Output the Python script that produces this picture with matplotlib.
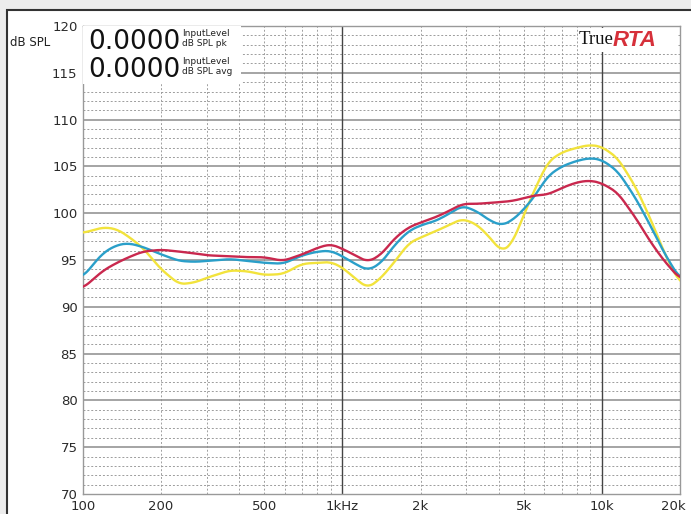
import matplotlib.pyplot as plt
import matplotlib.patches as patches
import matplotlib.transforms as mtransforms
import numpy as np

# frequency grid (Hz) and measured levels (dB SPL) for the three traces
freq = [100, 110, 120, 135, 150, 170, 200, 235, 270, 300, 370, 430, 500, 590,
        700, 800, 900, 1000, 1100, 1250, 1400, 1600, 1800, 2000, 2300, 2600,
        2900, 3300, 3700, 4100, 4500, 5000, 5500, 6200, 7000, 8000, 9000,
        10000, 11500, 13500, 15500, 17500, 20000]

red = [92.0, 93.0, 93.9, 94.7, 95.3, 95.9, 96.1, 95.9, 95.7, 95.5, 95.4, 95.3,
       95.3, 94.9, 95.6, 96.3, 96.7, 96.2, 95.6, 94.8, 95.5, 97.4, 98.5, 99.0,
       99.6, 100.3, 101.0, 101.0, 101.1, 101.2, 101.3, 101.6, 101.9, 102.0,
       102.7, 103.3, 103.5, 103.2, 102.2, 99.5, 96.8, 94.8, 93.0]

blue = [93.2, 94.6, 95.8, 96.6, 96.8, 96.4, 95.6, 94.9, 94.8, 94.9, 95.1, 94.9,
        94.7, 94.6, 95.5, 95.9, 96.0, 95.4, 94.7, 93.9, 94.6, 96.7, 98.1, 98.7,
        99.2, 100.0, 100.8, 100.2, 99.2, 98.7, 99.2, 100.4, 101.8, 104.0,
        105.0, 105.6, 105.9, 105.7, 104.5, 101.6, 98.5, 95.6, 93.0]

yellow = [97.9, 98.2, 98.5, 98.3, 97.5, 96.3, 94.0, 92.4, 92.6, 93.1, 93.9,
          93.8, 93.4, 93.5, 94.6, 94.7, 94.8, 94.2, 93.2, 92.0, 93.0, 94.9,
          96.8, 97.4, 98.1, 98.8, 99.4, 98.8, 97.4, 95.9, 96.7, 99.8, 102.5,
          105.5, 106.5, 107.0, 107.3, 107.1, 105.9, 102.8, 99.2, 95.6, 92.5]

xticks = [100, 200, 500, 1000, 2000, 5000, 10000, 20000]
xticklabels = ["100", "200", "500", "1kHz", "2k", "5k", "10k", "20k"]
yticks = list(range(70, 121, 5))


def smooth(x, y, n=400):
    """Interpolate on log-frequency and run a short moving average."""
    lx = np.log10(x)
    xs = np.linspace(lx[0], lx[-1], n)
    ys = np.interp(xs, lx, y)
    k = np.ones(9) / 9
    pad = np.pad(ys, 4, mode="edge")
    ys = np.convolve(pad, k, mode="valid")
    return 10 ** xs, ys


fig = plt.figure(figsize=(6.91, 5.14), dpi=100)
fig.patch.set_facecolor("#ededed")
frame = patches.Rectangle((7 / 691, -0.02), 1.0, 1 - 10 / 514 + 0.02,
                          transform=fig.transFigure, facecolor="white",
                          edgecolor="#333333", lw=1.5, zorder=-10)
fig.patches.append(frame)

ax = fig.add_axes([83 / 691, 1 - 494 / 514, 597 / 691, 468 / 514])
ax.set_facecolor("white")
ax.set_xscale("log")
ax.set_xlim(100, 20000)
ax.set_ylim(70, 120)

# grid
minor_f = [m * d for d in (100, 1000, 10000) for m in range(2, 10) if m * d < 20000]
for f in minor_f:
    ax.axvline(f, color="#a0a0a0", lw=0.7, ls=(0, (2, 2)), zorder=1)
for v in range(71, 120):
    if v % 5:
        ax.axhline(v, color="#9c9c9c", lw=0.7, ls=(0, (2, 2)), zorder=1)
for v in range(75, 120, 5):
    ax.axhline(v, color="#8c8c8c", lw=1.1, zorder=1)
for f in (1000, 10000):
    ax.axvline(f, color="#444444", lw=1.0, zorder=1)

for data, col in ((yellow, "#f2e33c"), (blue, "#2a9fc9"), (red, "#c9284e")):
    xs, ys = smooth(freq, data)
    ax.plot(xs, ys, color=col, lw=1.7, zorder=3)

ax.set_xticks(xticks)
ax.set_xticklabels(xticklabels)
ax.xaxis.set_minor_locator(plt.NullLocator())
ax.set_yticks(yticks)
ax.tick_params(length=0, labelsize=9.5, colors="#2a2a2a", pad=4)
last = ax.get_xticklabels()[-1]
last.set_transform(last.get_transform() +
                   mtransforms.ScaledTranslation(-6.5 / 100, 0, fig.dpi_scale_trans))
for s in ax.spines.values():
    s.set_color("#999999")
    s.set_linewidth(1.0)

fig.text(10 / 691, 1 - 42 / 514, "dB SPL", fontsize=8.5, color="#222222",
         va="center", ha="left")

# readout box covering the grid in the top-left corner
box = patches.Rectangle((0, 1 - 58 / 468), 158 / 597, 58 / 468,
                        transform=ax.transAxes, facecolor="white",
                        edgecolor="none", zorder=4)
ax.add_patch(box)
for yy, sub in ((42, "dB SPL pk"), (70, "dB SPL avg")):
    fig.text(88 / 691, 1 - yy / 514, "0.0000", fontsize=19, va="center",
             ha="left", color="#111111", zorder=5)
    fig.text(182 / 691, 1 - (yy - 8) / 514, "InputLevel", fontsize=6.5,
             va="center", ha="left", color="#222222", zorder=5)
    fig.text(182 / 691, 1 - (yy + 2) / 514, sub, fontsize=6.5,
             va="center", ha="left", color="#222222", zorder=5)

# logo
logo = patches.Rectangle((495 / 597, 1 - 26 / 468), 100 / 597, 24 / 468,
                         transform=ax.transAxes, facecolor="white",
                         edgecolor="none", zorder=4)
ax.add_patch(logo)
fig.text(579 / 691, 1 - 40 / 514, "True", fontsize=13.5, family="Liberation Serif",
         va="center", ha="left", color="#111111", zorder=5)
fig.text(613 / 691, 1 - 40 / 514, "RTA", fontsize=16, fontweight="bold",
         style="italic", family="Liberation Sans", va="center", ha="left",
         color="#d6303a", zorder=5)

fig.savefig("out.png", dpi=100)
